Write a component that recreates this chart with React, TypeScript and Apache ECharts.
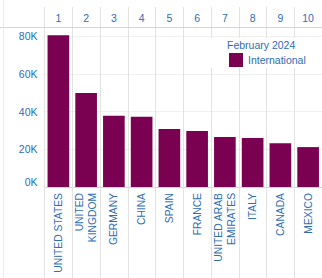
import React, { useEffect, useRef } from "react";
import * as echarts from "echarts";

const categories = [
  "UNITED STATES",
  "UNITED\nKINGDOM",
  "GERMANY",
  "CHINA",
  "SPAIN",
  "FRANCE",
  "UNITED ARAB\nEMIRATES",
  "ITALY",
  "CANADA",
  "MEXICO",
];
const ranks = ["1", "2", "3", "4", "5", "6", "7", "8", "9", "10"];
const values = [80600, 49900, 37800, 37300, 30800, 29700, 26500, 26000, 23300, 21200];
const seriesName = "International";
const legendTitle = "February 2024";

const FONT = "'Liberation Sans', Arial, sans-serif";
const BLUE = "#2e6db4";
const BAR = "#7a0052";
const LINE = "#e2e2e2";

export default function App() {
  const ref = useRef<HTMLDivElement>(null);
  useEffect(() => {
    if (!ref.current) return;
    const chart = echarts.init(ref.current, undefined, { renderer: "svg" });
    chart.setOption({
      animation: false,
      backgroundColor: "#fff",
      grid: { left: 44.5, right: -3.5, top: 27, bottom: 91, containLabel: false },
      xAxis: [
        {
          type: "category",
          data: categories,
          position: "bottom",
          axisLine: { show: true, lineStyle: { color: "#d4d4d4", width: 1 } },
          axisTick: { show: true, length: 91, lineStyle: { color: LINE } },
          splitLine: { show: true, lineStyle: { color: LINE } },
          axisLabel: {
            rotate: 90,
            margin: 6,
            interval: 0,
            color: BLUE,
            fontSize: 10.3,
            lineHeight: 13,
            fontFamily: FONT,
          },
        },
        {
          type: "category",
          data: ranks,
          position: "top",
          axisLine: { show: false },
          axisTick: { show: true, length: 20, lineStyle: { color: LINE } },
          splitLine: { show: false },
          axisLabel: {
            margin: 4,
            interval: 0,
            color: BLUE,
            fontSize: 10.5,
            fontFamily: FONT,
          },
        },
      ],
      yAxis: {
        type: "value",
        min: 0,
        max: 85000,
        interval: 20000,
        axisLine: { show: false },
        axisTick: { show: false },
        splitLine: { show: true, lineStyle: { color: "#f0f0f0" } },
        axisLabel: {
          showMaxLabel: false,
          margin: 7,
          color: BLUE,
          fontSize: 10.5,
          fontFamily: FONT,
          formatter: (v: number) =>
            v === 0 ? `{min|${Math.round(v / 1000)}K}` : `${Math.round(v / 1000)}K`,
          rich: {
            min: {
              color: BLUE,
              fontSize: 10.5,
              fontFamily: FONT,
              padding: [0, 0, 11, 0],
            },
          },
        },
      },
      legend: {
        data: [seriesName],
        left: 229,
        top: 53,
        padding: 0,
        itemWidth: 14,
        itemHeight: 14,
        icon: "rect",
        z: 20,
        textStyle: { color: BLUE, fontSize: 10.5, fontFamily: FONT },
      },
      graphic: [
        {
          type: "line",
          z: 5,
          shape: { x1: 0, y1: 27.5, x2: 322, y2: 27.5 },
          style: { stroke: "#d6d6d6", lineWidth: 1 },
        },
        {
          type: "line",
          z: 5,
          shape: { x1: 3.5, y1: 0, x2: 3.5, y2: 278 },
          style: { stroke: "#ececec", lineWidth: 1 },
        },
        {
          type: "rect",
          z: 10,
          shape: { x: 210, y: 38, width: 100, height: 30 },
          style: { fill: "#fff" },
        },
        {
          type: "text",
          z: 11,
          x: 227,
          y: 45,
          style: {
            text: legendTitle,
            fill: BLUE,
            fontSize: 10.5,
            fontFamily: FONT,
            verticalAlign: "middle",
            align: "left",
          },
        },
      ],
      series: [
        {
          name: seriesName,
          type: "bar",
          xAxisIndex: 0,
          data: values,
          barCategoryGap: "22%",
          itemStyle: { color: BAR },
        },
      ],
    });
    return () => chart.dispose();
  }, []);
  return (
    <div
      ref={ref}
      style={{ position: "fixed", left: 0, top: 0, width: 322, height: 278 }}
    />
  );
}
